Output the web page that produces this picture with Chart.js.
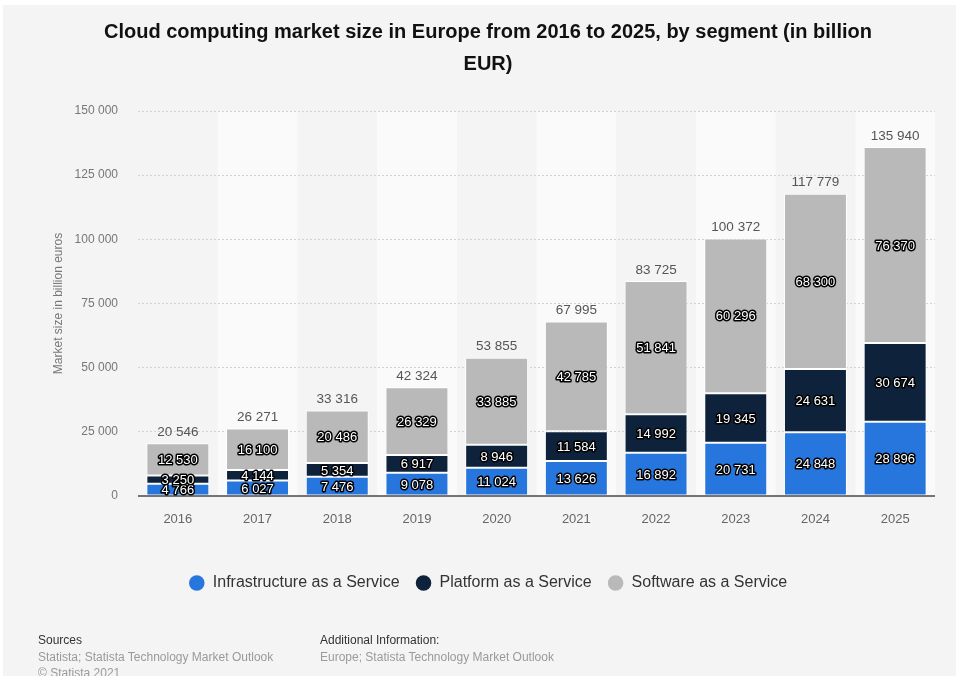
<!DOCTYPE html>
<html>
<head>
<meta charset="utf-8">
<script src="https://cdn.jsdelivr.net/npm/chart.js@4"></script>
<style>
  html, body { margin: 0; padding: 0; background: #ffffff; width: 958px; height: 676px; overflow: hidden; }
  #wrap { position: absolute; left: 3px; top: 5px; width: 953px; height: 671px; background: #f4f4f4; }
  #chart { position: absolute; left: 0; top: 0; }
  .foot { position: absolute; font-family: 'Liberation Sans', Arial, sans-serif; font-size: 12px; line-height: 16.5px; color: #9a9a9a; white-space: nowrap; }
  .foot .head { color: #333333; }
</style>
</head>
<body>
<div id="wrap">
  <canvas id="chart" width="953" height="671"></canvas>
  <div class="foot" style="left:35px; top:627px;">
    <div class="head">Sources</div>
    <div>Statista; Statista Technology Market Outlook</div>
    <div>© Statista 2021</div>
  </div>
  <div class="foot" style="left:317px; top:627px;">
    <div class="head">Additional Information:</div>
    <div>Europe; Statista Technology Market Outlook</div>
  </div>
</div>
<script>
const years = ['2016', '2017', '2018', '2019', '2020', '2021', '2022', '2023', '2024', '2025'];
const iaas = [4766, 6027, 7476, 9078, 11024, 13626, 16892, 20731, 24848, 28896];
const paas = [3250, 4144, 5354, 6917, 8946, 11584, 14992, 19345, 24631, 30674];
const saas = [12530, 16100, 20486, 26329, 33885, 42785, 51841, 60296, 68300, 76370];
const yTicks = [0, 25000, 50000, 75000, 100000, 125000, 150000];

const FONT = "'Liberation Sans', Arial, sans-serif";
const fmt = v => String(v).replace(/\B(?=(\d{3})+(?!\d))/g, ' ');

// light stripes behind every second year column
const columnBands = {
  id: 'columnBands',
  beforeDraw(chart) {
    const { ctx, chartArea: a, scales: { x } } = chart;
    const w = (a.right - a.left) / years.length;
    ctx.save();
    ctx.fillStyle = '#fafafa';
    years.forEach((_, i) => {
      if (i % 2 === 1) {
        const cx = x.getPixelForValue(i);
        ctx.fillRect(cx - w / 2, a.top, w, a.bottom - a.top);
      }
    });
    ctx.restore();
  }
};

// solid zero line, segment values and stacked totals
const barLabels = {
  id: 'barLabels',
  afterDatasetsDraw(chart) {
    const { ctx, chartArea: a } = chart;
    ctx.save();
    ctx.strokeStyle = '#4a4a4a';
    ctx.lineWidth = 1.5;
    ctx.beginPath();
    ctx.moveTo(a.left, a.bottom);
    ctx.lineTo(a.right, a.bottom);
    ctx.stroke();

    ctx.textAlign = 'center';
    ctx.textBaseline = 'middle';
    ctx.lineJoin = 'round';
    ctx.font = '13px ' + FONT;
    chart.data.datasets.forEach((ds, di) => {
      const meta = chart.getDatasetMeta(di);
      meta.data.forEach((bar, j) => {
        const { y, base } = bar.getProps(['y', 'base'], true);
        const cy = (y + base) / 2 + 1;
        const txt = fmt(ds.data[j]);
        ctx.lineWidth = 3;
        ctx.strokeStyle = '#000000';
        ctx.strokeText(txt, bar.x, cy);
        ctx.fillStyle = '#ffffff';
        ctx.fillText(txt, bar.x, cy);
      });
    });

    const top = chart.getDatasetMeta(chart.data.datasets.length - 1);
    ctx.font = '13.5px ' + FONT;
    ctx.fillStyle = '#555555';
    top.data.forEach((bar, j) => {
      const total = iaas[j] + paas[j] + saas[j];
      ctx.fillText(fmt(total), bar.x, bar.y - 11);
    });
    ctx.restore();
  }
};

const barStyle = {
  borderColor: '#ffffff',
  borderWidth: 1,
  borderSkipped: false,
  barPercentage: 0.79,
  categoryPercentage: 1
};

new Chart(document.getElementById('chart'), {
  type: 'bar',
  data: {
    labels: years,
    datasets: [
      { label: 'Infrastructure as a Service', data: iaas, backgroundColor: '#2776de', ...barStyle },
      { label: 'Platform as a Service', data: paas, backgroundColor: '#0e233b', ...barStyle },
      { label: 'Software as a Service', data: saas, backgroundColor: '#b9b9b9', ...barStyle }
    ]
  },
  options: {
    responsive: false,
    animation: false,
    events: [],
    layout: { padding: { left: 38, right: 21, top: 0, bottom: 75 } },
    scales: {
      x: {
        stacked: true,
        offset: true,
        grid: { display: false, drawTicks: false },
        border: { display: false },
        ticks: { color: '#666666', font: { family: FONT, size: 13 }, padding: 16 },
        afterFit: s => { s.height = 63; }
      },
      y: {
        stacked: true,
        min: 0,
        max: 150000,
        afterBuildTicks: s => { s.ticks = yTicks.map(v => ({ value: v })); },
        grid: {
          drawTicks: false,
          color: c => (c.tick && c.tick.value === 0) ? 'rgba(0,0,0,0)' : '#d2d2d2',
          lineWidth: 1
        },
        border: { display: false, dash: [2, 2] },
        ticks: {
          color: '#777777',
          font: { family: FONT, size: 12 },
          padding: 20,
          callback: v => fmt(v)
        },
        title: {
          display: true,
          text: 'Market size in billion euros',
          color: '#777777',
          font: { family: FONT, size: 12 },
          padding: { top: 10, bottom: 0 }
        },
        afterFit: s => { s.width = 97; }
      }
    },
    plugins: {
      title: {
        display: true,
        text: ['Cloud computing market size in Europe from 2016 to 2025, by segment (in billion', 'EUR)'],
        color: '#111111',
        font: { family: FONT, size: 20, weight: 'bold', lineHeight: 32 / 20 },
        padding: { top: 11, bottom: 31 }
      },
      legend: {
        display: true,
        position: 'bottom',
        labels: {
          color: '#333333',
          font: { family: FONT, size: 16 },
          usePointStyle: true,
          pointStyle: 'circle',
          boxHeight: 11,
          padding: 16,
          generateLabels: chart => Chart.defaults.plugins.legend.labels.generateLabels(chart)
            .map(l => ({ ...l, strokeStyle: l.fillStyle, lineWidth: 0 }))
        }
      },
      tooltip: { enabled: false }
    }
  },
  plugins: [columnBands, barLabels]
});
</script>
</body>
</html>
